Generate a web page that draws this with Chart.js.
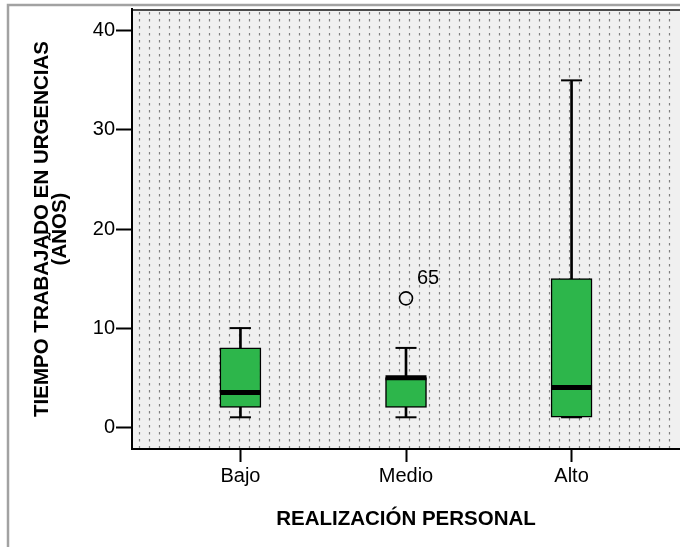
<!DOCTYPE html>
<html>
<head>
<meta charset="utf-8">
<style>
  html, body { margin: 0; padding: 0; overflow: hidden; background: #fff; width: 680px; height: 547px; }
  canvas { display: block; }
</style>
<script src="https://cdn.jsdelivr.net/npm/chart.js@4/dist/chart.umd.min.js"></script>
</head>
<body>
<canvas id="c" width="680" height="547"></canvas>
<script>
// Box-plot summary per group (years worked in the emergency department)
const categories   = ['Bajo', 'Medio', 'Alto'];
const whiskerLow   = [1, 1, 1];
const quartile1    = [2, 2, 1];
const medians      = [3.5, 5, 4];
const quartile3    = [8, 5, 15];
const whiskerHigh  = [10, 8, 35];

// Outlying cases: group index, value and case number
const outlierGroup = [1];
const outlierValue = [13];
const outlierCase  = ['65'];

const yTicks = [0, 10, 20, 30, 40];

const FONT = "'Liberation Sans', Arial, Helvetica, sans-serif";
Chart.defaults.font.family = FONT;
Chart.defaults.color = '#000';

const BOX_GREEN = '#2db64b';

// Plot background: light grey panel with dotted vertical hatching, outer frame
const backdrop = {
  id: 'backdrop',
  beforeDraw(chart) {
    const { ctx, chartArea: a, width, height } = chart;
    ctx.save();
    ctx.fillStyle = '#fff';
    ctx.fillRect(0, 0, width, height);

    // outer frame (left and top edges)
    ctx.strokeStyle = '#a2a2a2';
    ctx.lineWidth = 2.5;
    ctx.beginPath();
    ctx.moveTo(8, height + 5);
    ctx.lineTo(8, 5);
    ctx.lineTo(width + 5, 5);
    ctx.stroke();

    // panel
    ctx.fillStyle = '#f0f0f0';
    ctx.fillRect(a.left, a.top, a.right - a.left, a.bottom - a.top);

    // dotted hatching
    ctx.strokeStyle = '#808080';
    ctx.lineWidth = 1.2;
    ctx.setLineDash([2.5, 4.5]);
    for (let x = a.left + 7; x < a.right - 4; x += 10) {
      ctx.beginPath();
      ctx.moveTo(x + 0.5, a.top + 3);
      ctx.lineTo(x + 0.5, a.bottom);
      ctx.stroke();
    }
    ctx.setLineDash([]);

    // top edge of the panel
    ctx.strokeStyle = '#4a4a4a';
    ctx.lineWidth = 2;
    ctx.beginPath();
    ctx.moveTo(a.left, a.top + 1);
    ctx.lineTo(width, a.top + 1);
    ctx.stroke();
    ctx.restore();
  },
  afterDatasetsDraw(chart) {
    // case numbers next to the outlier circles
    const meta = chart.getDatasetMeta(chart.data.datasets.findIndex(d => d.label === 'outliers'));
    const { ctx } = chart;
    ctx.save();
    ctx.font = '20px ' + FONT;
    ctx.fillStyle = '#000';
    ctx.textAlign = 'center';
    ctx.textBaseline = 'middle';
    meta.data.forEach((pt, i) => {
      ctx.fillText(outlierCase[i], pt.x + 22, pt.y - 20);
    });
    ctx.restore();
  }
};

const idx = categories.map((_, i) => i);

new Chart(document.getElementById('c'), {
  type: 'bar',
  data: {
    datasets: [
      {
        label: 'whiskers',
        type: 'bar',
        data: idx.map(i => ({ x: i, y: [whiskerLow[i], whiskerHigh[i]] })),
        barThickness: 2,
        backgroundColor: '#000',
        borderWidth: 0,
        grouped: false,
        order: 5
      },
      {
        label: 'caps',
        type: 'line',
        showLine: false,
        data: idx.flatMap(i => [{ x: i, y: whiskerLow[i] }, { x: i, y: whiskerHigh[i] }]),
        pointStyle: 'line',
        pointRadius: 10.5,
        pointBorderWidth: 2,
        pointBorderColor: '#000',
        order: 4
      },
      {
        label: 'boxes',
        type: 'bar',
        data: idx.map(i => ({ x: i, y: [quartile1[i], quartile3[i]] })),
        barThickness: 41,
        backgroundColor: BOX_GREEN,
        borderColor: '#000',
        borderWidth: 1.5,
        borderSkipped: false,
        grouped: false,
        order: 3
      },
      {
        label: 'medians',
        type: 'line',
        showLine: false,
        data: idx.map(i => ({ x: i, y: medians[i] })),
        pointStyle: 'line',
        pointRadius: 20.5,
        pointBorderWidth: 5,
        pointBorderColor: '#000',
        order: 2
      },
      {
        label: 'outliers',
        type: 'line',
        showLine: false,
        data: outlierGroup.map((g, i) => ({ x: g, y: outlierValue[i] })),
        pointStyle: 'circle',
        pointRadius: 6.5,
        pointBorderWidth: 1.6,
        pointBorderColor: '#000',
        pointBackgroundColor: 'rgba(0,0,0,0)',
        order: 1
      }
    ]
  },
  options: {
    responsive: false,
    animation: false,
    devicePixelRatio: 1,
    events: [],
    layout: { autoPadding: false, padding: { left: 0, top: 9, right: -2, bottom: 0 } },
    plugins: {
      legend: { display: false },
      tooltip: { enabled: false }
    },
    scales: {
      x: {
        type: 'linear',
        min: -0.655,
        max: 2.655,
        offset: false,
        grid: {
          display: true, offset: false, drawOnChartArea: false, drawTicks: true,
          tickLength: 13, tickWidth: 2, tickColor: '#000'
        },
        border: { display: true, color: '#000', width: 2 },
        afterBuildTicks: s => { s.ticks = idx.map(i => ({ value: i })); },
        ticks: {
          font: { size: 20 },
          color: '#000',
          padding: 2,
          autoSkip: false,
          maxRotation: 0,
          callback: v => categories[v]
        },
        title: {
          display: true,
          text: 'REALIZACIÓN PERSONAL',
          color: '#000',
          font: { size: 20.5, weight: 'bold' },
          padding: { top: 0, bottom: 15 }
        },
        afterFit: s => { s.height = 98; s.paddingLeft = 0; s.paddingRight = 0; }
      },
      y: {
        type: 'linear',
        min: -2.2,
        max: 42.2,
        grid: {
          display: true, drawOnChartArea: false, drawTicks: true,
          tickLength: 16, tickWidth: 2, tickColor: '#000'
        },
        border: { display: true, color: '#000', width: 2 },
        afterBuildTicks: s => { s.ticks = yTicks.map(v => ({ value: v })); },
        ticks: {
          font: { size: 20 },
          color: '#000',
          padding: 1
        },
        title: {
          display: true,
          text: ['TIEMPO TRABAJADO EN URGENCIAS', '(AÑOS)'],
          color: '#000',
          font: { size: 20.5, weight: 'bold', lineHeight: 0.85 },
          padding: { top: 34, bottom: 0 }
        },
        afterFit: s => { s.width = 132; s.paddingTop = 0; s.paddingBottom = 0; }
      }
    }
  },
  plugins: [backdrop]
});
</script>
</body>
</html>
